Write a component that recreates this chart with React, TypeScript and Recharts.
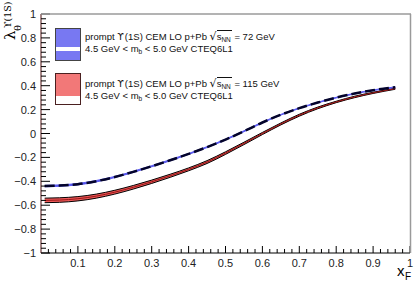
import React from "react";
import { ComposedChart, Area, Line, XAxis, YAxis } from "recharts";

// x_F sampling of both curves
const xF = [0.01, 0.05, 0.1, 0.15, 0.2, 0.25, 0.3, 0.35, 0.4, 0.45, 0.5, 0.55, 0.6, 0.65, 0.7, 0.75, 0.8, 0.85, 0.9, 0.96];

// sqrt(s_NN) = 72 GeV (blue, dashed)
const blueMid = [-0.44, -0.436, -0.424, -0.399, -0.364, -0.321, -0.274, -0.224, -0.171, -0.114, -0.051, 0.019, 0.092, 0.157, 0.212, 0.259, 0.3, 0.334, 0.362, 0.387];
const blueSpread = [0.006, 0.006, 0.006, 0.006, 0.005, 0.005, 0.005, 0.005, 0.004, 0.004, 0.004, 0.004, 0.004, 0.003, 0.003, 0.003, 0.003, 0.003, 0.003, 0.003];

// sqrt(s_NN) = 115 GeV (red band)
const redMid = [-0.56, -0.557, -0.546, -0.524, -0.491, -0.45, -0.404, -0.354, -0.3, -0.239, -0.164, -0.083, 0.0, 0.08, 0.153, 0.214, 0.264, 0.306, 0.34, 0.375];
const redSpread = [0.019, 0.019, 0.018, 0.017, 0.016, 0.015, 0.014, 0.013, 0.012, 0.012, 0.011, 0.01, 0.009, 0.008, 0.008, 0.007, 0.006, 0.006, 0.005, 0.005];

const yMajor = [-1, -0.8, -0.6, -0.4, -0.2, 0, 0.2, 0.4, 0.6, 0.8, 1];
const yLabels = ["\u22121", "\u22120.8", "\u22120.6", "\u22120.4", "\u22120.2", "0", "0.2", "0.4", "0.6", "0.8", "1"];
const xMajor = [0.1, 0.2, 0.3, 0.4, 0.5, 0.6, 0.7, 0.8, 0.9, 1];
const xLabels = ["0.1", "0.2", "0.3", "0.4", "0.5", "0.6", "0.7", "0.8", "0.9", "1"];

const rows = xF.map((x, i) => ({
  x,
  blue: blueMid[i],
  blueBand: [blueMid[i] - blueSpread[i], blueMid[i] + blueSpread[i]],
  red: redMid[i],
  redBand: [redMid[i] - redSpread[i], redMid[i] + redSpread[i]],
}));

// minor ticks every 0.04 (y) and 0.02 (x)
const yTicks = Array.from({ length: 51 }, (_, i) => Math.round((-1 + i * 0.04) * 100) / 100);
const xTicks = Array.from({ length: 50 }, (_, i) => Math.round((0.02 + i * 0.02) * 100) / 100);

const FONT = "'Liberation Sans', Arial, Helvetica, sans-serif";

const YTick = (props: any) => {
  const { x, y, payload } = props;
  const k = yMajor.findIndex((m) => Math.abs(m - payload.value) < 1e-6);
  const major = k >= 0;
  return (
    <g>
      <line x1={x} x2={x + (major ? 9 : 5)} y1={y} y2={y} stroke="#000" strokeWidth={1} />
      {major && (
        <text x={x - 5} y={y} dy={4} textAnchor="end" fontSize={11} fontFamily={FONT} fill="#222">
          {yLabels[k]}
        </text>
      )}
    </g>
  );
};

const XTick = (props: any) => {
  const { x, y, payload } = props;
  const k = xMajor.findIndex((m) => Math.abs(m - payload.value) < 1e-6);
  const major = k >= 0;
  return (
    <g>
      <line x1={x} x2={x} y1={y} y2={y - (major ? 7 : 4)} stroke="#000" strokeWidth={1} />
      {major && (
        <text x={x} y={y + 14} textAnchor="middle" fontSize={11} fontFamily={FONT} fill="#222">
          {xLabels[k]}
        </text>
      )}
    </g>
  );
};

const legendLine: React.CSSProperties = {
  position: "absolute",
  left: 85,
  height: 11,
  fontFamily: FONT,
  fontSize: 9.5,
  lineHeight: "11px",
  whiteSpace: "nowrap",
  color: "#111",
};

const sub: React.CSSProperties = { fontSize: 6.5, position: "relative", top: 2, lineHeight: "6px" };

const Ups = () => <span style={{ fontFamily: "'DejaVu Sans', sans-serif", fontSize: 9.5, lineHeight: "11px", marginRight: 1 }}>{"\u03D2"}</span>;

const Sqrt = () => (
  <span style={{ lineHeight: "11px" }}>
    <span style={{ fontSize: 11, lineHeight: "11px", fontFamily: "'DejaVu Sans', sans-serif" }}>{"\u221A"}</span>
    <span style={{ borderTop: "1px solid #111", paddingRight: 1, lineHeight: "10px" }}>
      s<span style={sub}>NN</span>
    </span>
  </span>
);

const Mb = () => (
  <span>
    m<span style={sub}>b</span>
  </span>
);

export default function App() {
  return (
    <div style={{ position: "absolute", left: 0, top: 0, width: 415, height: 281, background: "#fff" }}>
      <ComposedChart width={415} height={281} data={rows} margin={{ top: 14, right: 5, bottom: 0, left: 0 }}>
        <XAxis
          type="number"
          dataKey="x"
          domain={[0, 1]}
          ticks={xTicks}
          interval={0}
          tick={<XTick />}
          tickLine={false}
          tickSize={0}
          tickMargin={0}
          axisLine={{ stroke: "#000" }}
          height={28}
          allowDataOverflow
        />
        <YAxis
          type="number"
          domain={[-1, 1]}
          ticks={yTicks}
          interval={0}
          tick={<YTick />}
          tickLine={false}
          tickSize={0}
          tickMargin={0}
          axisLine={{ stroke: "#4a0c0c" }}
          width={41}
          allowDataOverflow
        />
        <Area type="monotone" dataKey="redBand" fill="#ee5a5a" fillOpacity={1} stroke="#000" strokeWidth={1} isAnimationActive={false} />
        <Line type="monotone" dataKey="red" stroke="#9a1515" strokeWidth={1} dot={false} isAnimationActive={false} />
        <Area type="monotone" dataKey="blueBand" fill="#4a4ae6" fillOpacity={1} stroke="#5a5af0" strokeWidth={1} isAnimationActive={false} />
        <Line type="monotone" dataKey="blue" stroke="#04042a" strokeWidth={2.5} strokeDasharray="10 4" dot={false} isAnimationActive={false} />
      </ComposedChart>

      <svg width={415} height={281} style={{ position: "absolute", left: 0, top: 0, pointerEvents: "none" }}>
        {/* frame */}
        <line x1={41} x2={411} y1={14} y2={14} stroke="#9a9a9a" strokeWidth={1.5} />
        <line x1={410.5} x2={410.5} y1={14} y2={253} stroke="#9a9a9a" strokeWidth={1.5} />
        {/* legend boxes */}
        <rect x={55.5} y={28.5} width={25} height={32} fill="#7878f2" stroke="#444" strokeWidth={1} />
        <rect x={56} y={47} width={24} height={4} fill="#fff" />
        <rect x={55.5} y={73.5} width={25} height={31} fill="#fff" stroke="#4a2020" strokeWidth={1} />
        <rect x={56} y={74} width={24} height={22} fill="#f27878" />
        {/* y title */}
        <text transform="translate(15,40) rotate(-90)" fontSize={15} fontFamily="'DejaVu Serif', serif" fill="#000">{"\u03BB"}</text>
        <text transform="translate(21,31) rotate(-90)" fontSize={10} fontFamily="'DejaVu Serif', serif" fill="#000">{"\u03B8"}</text>
        <text transform="translate(11,28) rotate(-90)" fontSize={9.5} fontFamily="'DejaVu Serif', serif" fill="#000">{"\u03D2(1S)"}</text>
        {/* x title */}
        <text x={397} y={276} fontSize={15} fontFamily={FONT} fill="#000">x</text>
        <text x={405} y={280} fontSize={10} fontFamily={FONT} fill="#000">F</text>
      </svg>

      <div style={{ ...legendLine, top: 31 }}>
        prompt <Ups />(1S) CEM LO p+Pb <Sqrt /> = 72 GeV
      </div>
      <div style={{ ...legendLine, top: 43 }}>
        4.5 GeV &lt; <Mb /> &lt; 5.0 GeV CTEQ6L1
      </div>
      <div style={{ ...legendLine, top: 78 }}>
        prompt <Ups />(1S) CEM LO p+Pb <Sqrt /> = 115 GeV
      </div>
      <div style={{ ...legendLine, top: 90 }}>
        4.5 GeV &lt; <Mb /> &lt; 5.0 GeV CTEQ6L1
      </div>
    </div>
  );
}
